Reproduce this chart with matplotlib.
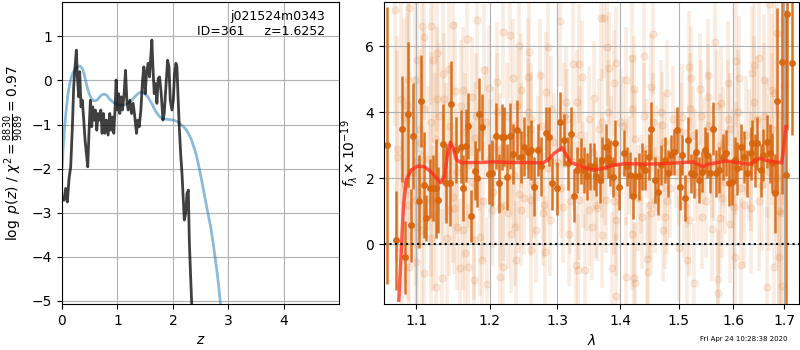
import numpy as np
import matplotlib
matplotlib.use('Agg')
import matplotlib.pyplot as plt
from matplotlib.ticker import FixedLocator, NullLocator

# p(z) panel: grism log p(z) (dark) and prior curve (blue)
pz_z = [0.00, 0.036, 0.066, 0.096, 0.127, 0.157, 0.187, 0.211, 0.235, 0.259, 0.277, 0.301, 0.319,
        0.343, 0.367, 0.392, 0.416, 0.44, 0.464, 0.488, 0.512, 0.536, 0.554, 0.578, 0.602, 0.627,
        0.651, 0.675, 0.699, 0.723, 0.747, 0.771, 0.801, 0.831, 0.861, 0.886, 0.91, 0.934, 0.958,
        0.976, 0.994, 1.018, 1.042, 1.066, 1.09, 1.12, 1.145, 1.169, 1.193, 1.223, 1.253, 1.283,
        1.313, 1.343, 1.367, 1.392, 1.422, 1.452, 1.476, 1.50, 1.524, 1.554, 1.578, 1.596, 1.62,
        1.639, 1.663, 1.687, 1.711, 1.735, 1.759, 1.789, 1.819, 1.843, 1.873, 1.904, 1.928, 1.952,
        1.982, 2.006, 2.03, 2.054, 2.072, 2.09, 2.114, 2.139, 2.163, 2.187, 2.205, 2.229, 2.253,
        2.277, 2.295, 2.319, 2.343, 2.36]
pz_logp = [-2.64, -2.72, -2.45, -2.76, -2.23, -1.96, -1.05, -0.14, 0.31, 0.69, 0.08, -0.37, 0.20,
           -0.60, -0.45, -0.90, -1.36, -1.66, -1.96, -1.13, -0.45, -1.05, -0.60, -0.90, -0.67, -1.13,
           -0.75, -0.90, -0.67, -1.20, -0.75, -1.20, -0.90, -1.24, -0.75, -1.13, -0.83, -1.20, -0.60,
           0.01, -0.67, -0.30, -0.75, -0.37, -0.67, -0.30, 0.23, -0.45, -0.67, -0.45, -0.75, -0.52,
           -0.83, -1.20, -0.90, -1.05, -0.67, 0.01, 0.31, -0.30, 0.16, 0.39, 0.08, 0.46, 0.92,
           0.31, -0.30, -0.07, -0.52, 0.05, 0.08, -0.30, -0.90, -0.75, -0.14, 0.46, 0.31, -0.45,
           -0.67, -0.45, 0.16, 0.39, 0.31, -0.30, -1.05, -1.66, -2.11, -2.72, -3.17, -3.02, -2.57,
           -2.49, -3.63, -4.46, -5.22, -6.0]

prior_z = [0.0, 0.02, 0.048, 0.08, 0.108, 0.14, 0.169, 0.21, 0.247, 0.283, 0.319, 0.35, 0.38, 0.415,
           0.452, 0.49, 0.53, 0.57, 0.608, 0.645, 0.681, 0.725, 0.771, 0.81, 0.849, 0.9, 0.952,
           1.01, 1.072, 1.13, 1.193, 1.25, 1.313, 1.36, 1.404, 1.45, 1.494, 1.54, 1.584, 1.63,
           1.675, 1.72, 1.765, 1.82, 1.886, 1.95, 2.006, 2.07, 2.127, 2.19, 2.247, 2.29, 2.337,
           2.38, 2.428, 2.47, 2.518, 2.56, 2.608, 2.645, 2.681, 2.72, 2.759, 2.79, 2.82, 2.861, 2.9]
prior_logp = [-2.04, -1.55, -1.05, -0.62, -0.30, -0.08, 0.08, 0.20, 0.27, 0.31, 0.33, 0.30, 0.23,
              0.06, -0.14, -0.30, -0.41, -0.46, -0.46, -0.43, -0.37, -0.32, -0.31, -0.34, -0.41,
              -0.47, -0.52, -0.55, -0.56, -0.55, -0.52, -0.46, -0.37, -0.31, -0.27, -0.27, -0.30,
              -0.36, -0.45, -0.55, -0.67, -0.76, -0.83, -0.87, -0.88, -0.89, -0.90, -0.93, -0.98,
              -1.05, -1.13, -1.23, -1.36, -1.52, -1.73, -1.97, -2.27, -2.55, -2.87, -3.10, -3.33,
              -3.65, -4.01, -4.30, -4.61, -5.14, -5.7]

# spectrum panel: binned points (dark)
bin_wave = [1.0624, 1.0743, 1.0815, 1.0857, 1.0891, 1.0930, 1.0965, 1.1034, 1.1069, 1.1104, 1.1130,
            1.1183, 1.1226, 1.1262, 1.1292, 1.1357, 1.1401, 1.1446, 1.1467, 1.1537, 1.1596, 1.1631,
            1.1663, 1.1698, 1.1734, 1.1789, 1.1820, 1.1853, 1.1889, 1.1992, 1.2029, 1.2086, 1.2134,
            1.2172, 1.2211, 1.2244, 1.2292, 1.2341, 1.2389, 1.2454, 1.2502, 1.2552, 1.2602, 1.2651,
            1.2701, 1.2752, 1.2827, 1.2877, 1.2912, 1.2994, 1.3041, 1.3097, 1.3159, 1.3212, 1.3253,
            1.3306, 1.3369, 1.3410, 1.3464, 1.3517, 1.3571, 1.3614, 1.3668, 1.3706, 1.3760, 1.3798,
            1.3841, 1.3879, 1.3923, 1.3977, 1.4060, 1.4115, 1.4160, 1.4210, 1.4255, 1.4311, 1.4367,
            1.4423, 1.4486, 1.4526, 1.4583, 1.4641, 1.4698, 1.4756, 1.4814, 1.4873, 1.4913, 1.4973,
            1.5020, 1.5068, 1.5110, 1.5170, 1.5218, 1.5278, 1.5320, 1.5368, 1.5423, 1.5471, 1.5520,
            1.5563, 1.5624, 1.5686, 1.5735, 1.5814, 1.5857, 1.5920, 1.5983, 1.6045, 1.6083, 1.6147,
            1.6210, 1.6274, 1.6339, 1.6365, 1.6416, 1.6467, 1.6534, 1.6580, 1.6645, 1.6712, 1.6758,
            1.6812, 1.6844, 1.6958, 1.7025, 1.7059, 1.7151]
bin_flux = [3.00, 0.13, 3.50, -0.39, 3.94, 0.58, 3.28, 1.30, 4.34, 1.80, 0.79,
            1.70, 1.70, 1.70, 1.34, 3.04, 1.85, 1.85, 4.25, 2.86, 2.96, 1.70,
            2.99, 3.60, 0.86, 2.23, 2.02, 3.94, 3.55, 2.13, 2.15, 3.28, 1.85,
            3.26, 3.26, 2.05, 3.28, 2.74, 3.46, 2.65, 2.96, 2.81, 2.86, 1.75,
            2.86, 2.36, 3.37, 3.26, 1.85, 1.70, 3.72, 3.16, 2.46, 3.35, 1.47,
            2.26, 2.52, 2.26, 2.06, 2.36, 2.36, 2.06, 1.95, 2.56, 2.95, 2.61,
            2.46, 2.04, 3.07, 1.75, 2.78, 2.36, 2.11, 1.47, 2.06, 2.06, 2.36,
            2.26, 2.65, 3.51, 1.95, 1.60, 2.40, 2.56, 2.15, 2.71, 2.81, 3.46,
            1.75, 2.71, 1.40, 3.16, 2.15, 2.10, 2.81, 1.95, 2.20, 2.86, 2.71,
            2.15, 3.51, 2.15, 2.25, 2.65, 2.76, 1.87, 1.90, 2.55, 2.30, 2.96,
            2.65, 2.15, 2.76, 3.06, 2.55, 3.06, 2.25, 2.71, 3.11, 2.76, 2.46,
            1.55, 4.35, 5.53, 2.10, 6.98, 5.50]
bin_err = [4.2, 1.5, 1.6, 1.1, 2.2, 1.1, 1.6, 1.4, 1.4, 1.6, 0.7,
           0.9, 1.0, 1.5, 1.0, 1.2, 1.2, 1.3, 1.3, 1.0, 1.1, 1.0,
           1.1, 1.0, 0.8, 0.9, 0.9, 1.1, 1.0, 0.9, 1.0, 1.0, 0.9,
           1.0, 0.9, 1.0, 1.0, 0.9, 0.9, 0.8, 0.9, 0.8, 0.9, 0.9,
           0.8, 0.9, 0.8, 0.9, 0.8, 0.8, 0.9, 0.8, 0.8, 0.8, 0.8,
           0.7, 0.7, 0.7, 0.7, 0.7, 0.7, 0.6, 0.7, 0.7, 0.7, 0.6,
           0.7, 0.6, 0.7, 0.7, 0.7, 0.6, 0.7, 0.7, 0.6, 0.7, 0.7,
           0.6, 0.7, 0.8, 0.7, 0.7, 0.6, 0.7, 0.7, 0.6, 0.7, 0.7,
           0.7, 0.6, 0.7, 0.7, 0.6, 0.7, 0.7, 0.7, 0.6, 0.7, 0.7,
           0.6, 0.8, 0.7, 0.7, 0.7, 0.7, 0.7, 0.7, 0.7, 0.8, 0.7,
           0.8, 0.7, 0.8, 0.7, 0.8, 0.8, 0.8, 0.8, 0.8, 0.9, 0.9,
           1.2, 2.8, 4.0, 5.0, 3.5, 2.2]

# spectrum panel: unbinned points (faint)
raw_wave = [1.0734, 1.0908, 1.0895, 1.1082, 1.1104, 1.1191, 1.1017, 1.1226, 1.1278, 1.1356, 1.1430,
            1.0756, 1.0843, 1.0887, 1.0982, 1.1269, 1.1365, 1.1191, 1.1061, 1.0995, 1.1226, 1.1430,
            1.1017, 1.1082, 1.1191, 1.1409, 1.1104, 1.0908, 1.1343, 1.1256, 1.0995, 1.0821,
            1.1491, 1.1679, 1.1819, 1.2194, 1.2288, 1.2335, 1.1913, 1.1632, 1.1514, 1.1749, 1.1983,
            1.2101, 1.1796, 1.2054, 1.1491, 1.1538, 1.1632, 1.1772, 1.1890, 1.1655, 1.1585, 1.1702,
            1.1960, 1.1866, 1.2030, 1.2148, 1.2265, 1.2312, 1.2194, 1.2358, 1.2148, 1.1772,
            1.2423, 1.2575, 1.3032, 1.2855, 1.2448, 1.2550, 1.2728, 1.2829, 1.3134, 1.3236, 1.3337,
            1.3388, 1.2550, 1.2601, 1.2423, 1.2601, 1.2778, 1.3083, 1.3337, 1.2448, 1.2677, 1.2880,
            1.2372, 1.2601, 1.2804, 1.3286, 1.3312, 1.3185,
            1.3679, 1.3734, 1.3789, 1.3926, 1.4201, 1.4393, 1.4091, 1.3816, 1.3899, 1.3569, 1.4228,
            1.3706, 1.3487, 1.3624, 1.3761, 1.3926, 1.3542, 1.3706, 1.4201, 1.4365, 1.3432, 1.3860,
            1.4091, 1.4228, 1.4255, 1.3926, 1.4448,
            1.4554, 1.5658, 1.5180, 1.5228, 1.5539, 1.4512, 1.4792, 1.5389, 1.5539, 1.5061, 1.4703,
            1.5777, 1.4583, 1.4524, 1.4763, 1.4733, 1.5180, 1.5419, 1.5748, 1.5598, 1.4464, 1.5151,
            1.5270, 1.5718, 1.5718, 1.5001,
            1.6694, 1.6062, 1.6108, 1.6401, 1.6499, 1.6597, 1.6760, 1.6857, 1.5912, 1.6368, 1.5801,
            1.6010, 1.6336, 1.6923, 1.5945, 1.6153, 1.6042, 1.6792, 1.6662, 1.6955, 1.6890,
            1.075, 1.085, 1.095, 1.105, 1.115, 1.125, 1.135, 1.145, 1.155, 1.165, 1.175, 1.185,
            1.195, 1.205, 1.215, 1.225, 1.235, 1.245, 1.255, 1.265, 1.275, 1.285, 1.295, 1.305,
            1.315, 1.325, 1.335, 1.345, 1.355, 1.365, 1.375, 1.385, 1.395, 1.405, 1.415, 1.425,
            1.435, 1.445, 1.455, 1.465, 1.475, 1.485, 1.495, 1.505, 1.515, 1.525, 1.535, 1.545,
            1.555, 1.565, 1.575, 1.585, 1.595, 1.605, 1.615, 1.625, 1.635, 1.645, 1.655, 1.665,
            1.675, 1.685, 1.695,
            1.080, 1.090, 1.100, 1.110, 1.120, 1.130, 1.140, 1.150, 1.160, 1.170, 1.180, 1.190,
            1.200, 1.210, 1.220, 1.230, 1.240, 1.250, 1.260, 1.270, 1.280, 1.290, 1.300, 1.310,
            1.320, 1.330, 1.340, 1.350, 1.360, 1.370, 1.380, 1.390, 1.400, 1.410, 1.420, 1.430,
            1.440, 1.450, 1.460, 1.470, 1.480, 1.490, 1.500, 1.510, 1.520, 1.530, 1.540, 1.550,
            1.560, 1.570, 1.580, 1.590, 1.600, 1.610, 1.620, 1.630, 1.640, 1.650, 1.660, 1.670,
            1.680, 1.690, 1.700]
raw_flux = [7.10, 7.15, 4.98, 6.62, 6.27, 6.62, 5.60, 5.58, 5.81, 5.16, 5.30,
            2.66, 3.87, 4.22, 4.98, 4.39, 4.39, 3.72, 3.06, 1.34, 0.79, 1.04,
            0.53, 0.43, 0.18, 0.18, -0.88, -0.68, -1.03, -1.30, -0.53, -0.15,
            6.65, 6.21, 6.80, 6.44, 6.34, 5.03, 5.28, 4.68, 4.65, 4.47, 4.73,
            4.93, 3.21, 2.96, 1.44, 0.53, 0.43, 0.13, -0.48, -0.27, -0.73, -0.68,
            -1.20, 0.23, 1.04, 1.14, 0.94, 0.33, -0.68, 0.53, -0.98, -1.08,
            6.01, 5.84, 6.78, 5.99, 4.68, 5.06, 5.13, 4.63, 4.32, 5.48, 5.48,
            5.08, 4.02, 3.51, 1.54, 1.34, 0.94, 1.14, 1.34, 1.04, 0.43, 0.74,
            -0.48, -0.17, -0.22, -0.63, -0.78, 0.33,
            6.85, 6.85, 5.99, 5.50, 5.64, 5.71, 4.98, 5.33, 4.88, 4.45, 4.70,
            3.72, 1.04, 1.09, 1.34, 0.74, 0.53, 0.28, 0.33, 0.84, -0.78, -0.73,
            -0.98, -1.03, -1.16, -1.56, -0.43,
            6.37, 6.14, 5.38, 5.03, 5.13, 4.76, 4.60, 4.70, 4.47, 3.87, 3.62,
            4.27, 1.34, 0.94, 0.84, 0.45, 0.74, 0.84, 0.79, 0.48, -0.83, -0.48,
            -1.16, -1.06, -1.47, -0.12,
            7.28, 5.56, 5.03, 5.43, 5.64, 4.98, 4.68, 6.39, 4.88, 5.18, 2.96,
            1.14, 1.09, 0.94, 0.63, -0.63, -0.37, -0.68, -1.28, -1.26, -0.37,
            2.9, 1.8, 2.2, 3.5, 2.6, 3.2, 2.0, 3.6, 2.2, 3.4, 1.9, 2.7,
            3.7, 1.6, 2.9, 3.9, 2.1, 3.3, 2.4, 1.8, 3.6, 2.3, 3.1, 1.7,
            3.8, 2.5, 3.3, 1.9, 2.8, 3.5, 2.1, 3.0, 1.6, 3.6, 2.4, 3.2,
            1.8, 2.9, 3.7, 2.2, 3.1, 1.7, 2.6, 3.4, 2.0, 3.3, 1.6, 2.8,
            3.6, 2.3, 3.0, 1.9, 3.5, 2.6, 1.7, 3.3, 2.2, 3.8, 1.8, 2.9,
            3.5, 2.0, 3.9,
            4.4, 1.2, 2.5, 4.1, 1.3, 3.9, 2.8, 1.1, 4.2, 2.4, 3.9, 1.3,
            2.6, 4.0, 1.2, 2.7, 4.2, 1.4, 3.8, 2.9, 1.2, 4.1, 2.5, 3.9,
            1.3, 4.3, 2.1, 3.8, 1.2, 2.4, 4.0, 1.3, 3.7, 2.2, 4.1, 1.4,
            3.9, 1.2, 2.6, 4.0, 1.3, 3.8, 2.2, 1.2, 4.1, 2.4, 3.9, 1.3,
            2.5, 4.2, 1.4, 3.8, 2.3, 4.0, 1.2, 2.7, 4.3, 1.3, 3.9, 2.2,
            4.6, 1.0, 4.8]
raw_err = [3.5, 3.5, 3.0, 2.5, 2.5, 2.4, 2.8, 2.3, 2.4, 2.2, 2.3,
           3.2, 3.0, 2.8, 2.6, 2.2, 2.0, 2.1, 2.4, 2.6, 2.2, 2.0,
           2.7, 2.4, 2.2, 2.0, 2.5, 3.0, 2.1, 2.3, 2.8, 3.3,
           2.2, 2.0, 2.1, 2.0, 1.9, 1.8, 2.0, 1.9, 2.1, 1.8, 1.9,
           1.8, 1.7, 1.8, 2.0, 1.9, 1.8, 1.8, 1.9, 2.0, 2.1, 1.9,
           2.0, 1.8, 1.7, 1.8, 1.7, 1.8, 1.9, 1.8, 1.9, 2.0,
           1.9, 1.8, 2.0, 1.8, 1.7, 1.8, 1.7, 1.8, 1.7, 1.9, 1.8,
           1.7, 1.6, 1.7, 1.8, 1.7, 1.6, 1.7, 1.8, 1.7, 1.6, 1.7,
           1.8, 1.7, 1.7, 1.8, 1.7, 1.6,
           1.9, 1.8, 1.8, 1.7, 1.8, 1.7, 1.6, 1.7, 1.6, 1.7, 1.6,
           1.6, 1.7, 1.6, 1.6, 1.7, 1.6, 1.6, 1.7, 1.6, 1.7, 1.7,
           1.8, 1.7, 1.8, 1.9, 1.7,
           1.8, 1.8, 1.7, 1.6, 1.7, 1.6, 1.6, 1.7, 1.6, 1.6, 1.6,
           1.7, 1.6, 1.7, 1.6, 1.6, 1.7, 1.6, 1.7, 1.6, 1.8, 1.7,
           1.8, 1.8, 1.9, 1.6,
           2.6, 2.0, 1.9, 2.0, 2.1, 2.0, 2.3, 2.5, 1.9, 2.0, 1.8,
           1.9, 2.0, 2.8, 1.8, 2.0, 1.9, 2.6, 2.4, 3.0, 2.7,
           3.4, 3.0, 2.6, 2.4, 2.2, 2.0, 2.0, 1.9, 1.9, 1.8, 1.8, 1.7,
           1.7, 1.7, 1.7, 1.6, 1.6, 1.6, 1.6, 1.6, 1.6, 1.5, 1.5, 1.5,
           1.5, 1.5, 1.5, 1.5, 1.5, 1.5, 1.5, 1.5, 1.5, 1.5, 1.5, 1.5,
           1.5, 1.5, 1.5, 1.5, 1.5, 1.5, 1.5, 1.5, 1.5, 1.5, 1.5, 1.6,
           1.6, 1.6, 1.6, 1.6, 1.7, 1.7, 1.7, 1.8, 1.8, 1.9, 2.0, 2.1,
           2.3, 2.6, 3.0,
           3.2, 2.9, 2.6, 2.4, 2.3, 2.2, 2.1, 2.0, 2.0, 1.9, 1.9, 1.8,
           1.8, 1.8, 1.7, 1.7, 1.7, 1.7, 1.7, 1.6, 1.6, 1.6, 1.6, 1.6,
           1.6, 1.6, 1.6, 1.6, 1.6, 1.6, 1.6, 1.6, 1.6, 1.6, 1.6, 1.6,
           1.6, 1.6, 1.6, 1.6, 1.6, 1.6, 1.6, 1.6, 1.7, 1.7, 1.7, 1.7,
           1.7, 1.7, 1.8, 1.8, 1.8, 1.9, 1.9, 2.0, 2.0, 2.1, 2.2, 2.4,
           2.7, 3.1, 3.6]

# best-fit model
model_wave = [1.0777, 1.0807, 1.0836, 1.0871, 1.0935, 1.1021, 1.1108, 1.1196, 1.1271, 1.1320,
              1.1373, 1.1417, 1.1454, 1.1494, 1.1539, 1.1598, 1.1849, 1.2079, 1.2312, 1.2553,
              1.2774, 1.2849, 1.2949, 1.3075, 1.3137, 1.3215, 1.3345, 1.3557, 1.3718, 1.3882,
              1.4103, 1.4441, 1.4787, 1.5260, 1.5383, 1.5442, 1.5534, 1.5875, 1.6127, 1.6319,
              1.6449, 1.6514, 1.6645, 1.6943, 1.6974, 1.7029]
model_flux = [-1.69, -0.27, 1.14, 1.95, 2.25, 2.37, 2.35, 2.20, 2.00, 1.87,
              2.05, 2.76, 3.08, 2.91, 2.56, 2.48, 2.48, 2.50, 2.48, 2.48,
              2.47, 2.54, 2.76, 2.93, 2.71, 2.48, 2.38, 2.25, 2.30, 2.40,
              2.45, 2.43, 2.45, 2.50, 2.40, 2.35, 2.43, 2.53, 2.47, 2.43,
              2.56, 2.61, 2.54, 2.47, 2.76, 3.57]

wave_ticks = [1.1, 1.2, 1.3, 1.4, 1.5, 1.6, 1.7]
root_name = 'j021524m0343'
obj_id = 361
z_best = 1.6252
chi2_num, chi2_den = 8830, 9089
stamp = 'Fri Apr 24 10:28:38 2020'

orange = '#d7660e'

fig = plt.figure(figsize=(8, 3.5), dpi=100)

# --- left: p(z)
ax = fig.add_axes([0.0775, 0.131, 0.346, 0.863])
ax.plot(prior_z, prior_logp, color='tab:blue', alpha=0.5, lw=2)
ax.plot(pz_z, pz_logp, color='k', alpha=0.75, lw=2)
ax.set_xlim(0, 4.99)
ax.set_ylim(-5.08, 1.78)
ax.set_xticks([0, 1, 2, 3, 4])
ax.set_yticks([-5, -4, -3, -2, -1, 0, 1])
ax.grid(True)
ax.set_xlabel(r'$z$')
ax.set_ylabel(r'$\log\ p(z)$' + ' / ' +
              r'$\chi^2=\frac{%d}{%d}=%.2f$' % (chi2_num, chi2_den, chi2_num / chi2_den))
ax.text(0.95, 0.975, '{0}\nID={1}     z={2:.4f}'.format(root_name, obj_id, z_best),
        transform=ax.transAxes, ha='right', va='top', fontsize=9)

# --- right: spectrum
ax2 = fig.add_axes([0.48, 0.131, 0.519, 0.863])
ax2.errorbar(raw_wave, raw_flux, yerr=raw_err, fmt='o', color=orange, alpha=0.12,
             ms=5, lw=2.6, zorder=1)
ax2.errorbar(bin_wave, bin_flux, yerr=bin_err, fmt='o', color=orange, alpha=0.9,
             ms=4, lw=1.8, zorder=2)
ax2.plot(model_wave, model_flux, color='#ff2a1a', alpha=0.75, lw=2.5, zorder=3)
ax2.axhline(0, color='k', ls=':', lw=1.5, zorder=4)
ax2.set_xscale('log')
ax2.set_xlim(1.059, 1.730)
ax2.set_ylim(-1.81, 7.34)
ax2.xaxis.set_major_locator(FixedLocator(wave_ticks))
ax2.xaxis.set_minor_locator(NullLocator())
ax2.set_xticklabels(['%.1f' % w for w in wave_ticks])
ax2.set_yticks([0, 2, 4, 6])
ax2.grid(True)
ax2.set_xlabel(r'$\lambda$')
ax2.set_ylabel(r'$f_\lambda \times 10^{-19}$')

fig.text(0.985, 0.03, stamp, ha='right', va='center', fontsize=5)

fig.savefig('out.png', dpi=100)
